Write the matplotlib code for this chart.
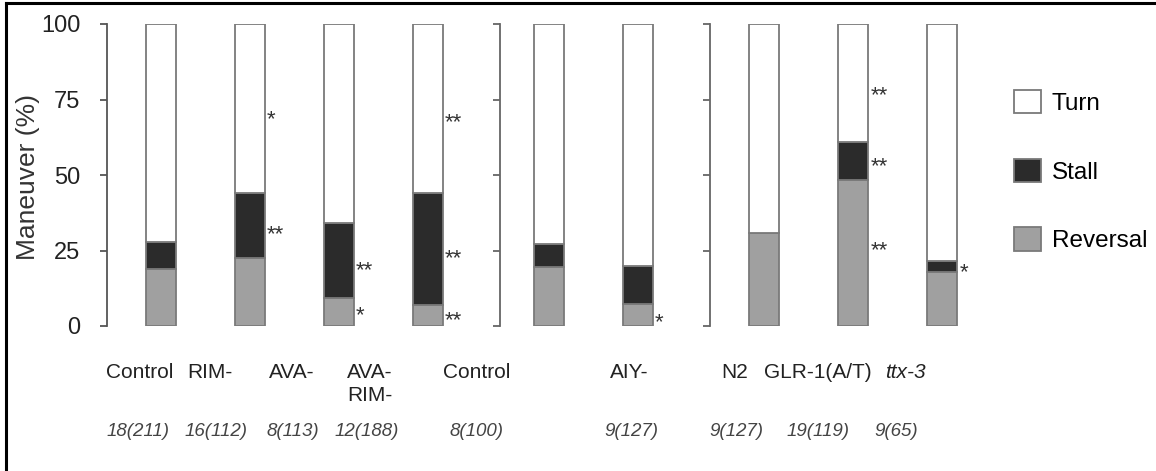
import matplotlib
matplotlib.use('Agg')
import matplotlib.pyplot as plt
from matplotlib.patches import Patch
from matplotlib.lines import Line2D
import matplotlib.transforms as mtransforms

plt.rcParams['font.family'] = ['Liberation Sans', 'DejaVu Sans']

# ---------------- data ----------------
categories = ['Control', 'RIM-', 'AVA-', 'AVA-\nRIM-', 'Control', 'AIY-', 'N2', 'GLR-1(A/T)', 'ttx-3']
italic_category = [False, False, False, False, False, False, False, False, True]
groups = [0, 0, 0, 0, 1, 1, 2, 2, 2]
reversal = [19.0, 22.4, 9.4, 7.0, 19.6, 7.3, 30.7, 48.3, 18.0]
stall = [8.7, 21.5, 24.7, 36.9, 7.4, 12.5, 0.0, 12.7, 3.6]
turn = [100 - r - s for r, s in zip(reversal, stall)]
n_labels = ['18(211)', '16(112)', '8(113)', '12(188)', '8(100)', '9(127)', '9(127)', '19(119)', '9(65)']

star_bar = [1, 1, 2, 2, 3, 3, 3, 5, 7, 7, 7, 8]
star_y = [69.9, 32.0, 20.0, 5.0, 69.0, 24.0, 3.3, 2.6, 77.9, 54.4, 26.5, 19.3]
star_text = ['*', '**', '**', '*', '**', '**', '**', '*', '**', '**', '**', '*']

yticks = [0, 25, 50, 75, 100]

# ---------------- layout ----------------
W, H = 1156, 471
group_offset = [0.0, 0.36, 0.78]
pos = [i + group_offset[g] for i, g in enumerate(groups)]
bar_w = 0.337
label_x = [-0.236, 0.55, 1.47, 2.35, 3.55, 5.26, 6.45, 7.38, 8.36]
nlab_x = [-0.258, 0.618, 1.483, 2.315, 3.55, 5.28, 6.47, 7.38, 8.26]

col_turn = 'white'
col_stall = '#2b2b2b'
col_rev = '#a0a0a0'
edge = '#7a7a7a'

fig = plt.figure(figsize=(W / 100, H / 100), dpi=100)
ax_left_px, ax_w_px = 107, 893
px_per_unit = 89.0
ax = fig.add_axes([ax_left_px / W, 145 / H, ax_w_px / W, 302 / H])
x0 = -0.607
ax.set_xlim(x0, x0 + ax_w_px / px_per_unit)
ax.set_ylim(0, 100)

ax.bar(pos, reversal, width=bar_w, color=col_rev, edgecolor=edge, linewidth=1.3, zorder=2)
ax.bar(pos, stall, width=bar_w, bottom=reversal, color=col_stall, edgecolor=edge, linewidth=1.3, zorder=2)
bottoms = [r + s for r, s in zip(reversal, stall)]
ax.bar(pos, turn, width=bar_w, bottom=bottoms, color=col_turn, edgecolor=edge, linewidth=1.3, zorder=2)

for sp in ['top', 'right', 'bottom']:
    ax.spines[sp].set_visible(False)
ax.spines['left'].set_color('#555555')
ax.spines['left'].set_linewidth(1.3)
ax.set_xticks([])
ax.set_yticks(yticks)
ax.tick_params(axis='y', direction='out', length=5, width=1.3, color='#555555',
               labelsize=17, pad=14, labelcolor='#222222')

# separator axes between groups
xlim = ax.get_xlim()
for g in range(1, 3):
    last = max(p for p, gg in zip(pos, groups) if gg == g - 1)
    sep = last + 0.81
    frac = (sep - xlim[0]) / (xlim[1] - xlim[0])
    sec = ax.secondary_yaxis(frac)
    sec.set_alignment('left')
    sec.set_yticks(yticks)
    sec.set_yticklabels([])
    sec.spines['left'].set_color('#666666')
    sec.spines['left'].set_linewidth(1.3)
    sec.tick_params(axis='y', direction='out', length=5, width=1.3, color='#666666')

# significance stars
for b, y, s in zip(star_bar, star_y, star_text):
    ax.annotate(s, xy=(pos[b] + bar_w / 2, y), xytext=(1.5, -7.5), textcoords='offset points',
                ha='left', va='baseline', fontsize=16, color='#333333')

# category labels and n labels
trans = mtransforms.blended_transform_factory(ax.transData, fig.transFigure)
for x, lab, it in zip(label_x, categories, italic_category):
    ax.text(x, (H - 363) / H, lab, transform=trans, ha='center', va='top', fontsize=15,
            color='#222222', style='italic' if it else 'normal', linespacing=1.25)
for x, lab in zip(nlab_x, n_labels):
    ax.text(x, (H - 432) / H, lab, transform=trans, ha='center', va='center', fontsize=13.5,
            color='#444444', style='italic')

fig.text(28 / W, (H - 177) / H, 'Maneuver (%)', rotation=90, ha='center', va='center',
         fontsize=19, color='#333333')

# legend
handles = [Patch(facecolor=col_turn, edgecolor=edge, linewidth=1.3, label='Turn'),
           Patch(facecolor=col_stall, edgecolor=edge, linewidth=1.3, label='Stall'),
           Patch(facecolor=col_rev, edgecolor=edge, linewidth=1.3, label='Reversal')]
fig.legend(handles=handles, loc='upper left', bbox_to_anchor=(1014 / W, (H - 90) / H),
           frameon=False, fontsize=17.5, handlelength=1.1, handleheight=1.1,
           handletextpad=0.45, labelspacing=1.8, borderpad=0, borderaxespad=0)

# figure frame (left and top edges)
fig.add_artist(Line2D([6 / W, 6 / W], [0, 1 - 3 / H], transform=fig.transFigure, color='black', lw=2.2))
fig.add_artist(Line2D([6 / W, 1], [1 - 3 / H, 1 - 3 / H], transform=fig.transFigure, color='black', lw=2.2))

fig.savefig('out.png', dpi=100)
